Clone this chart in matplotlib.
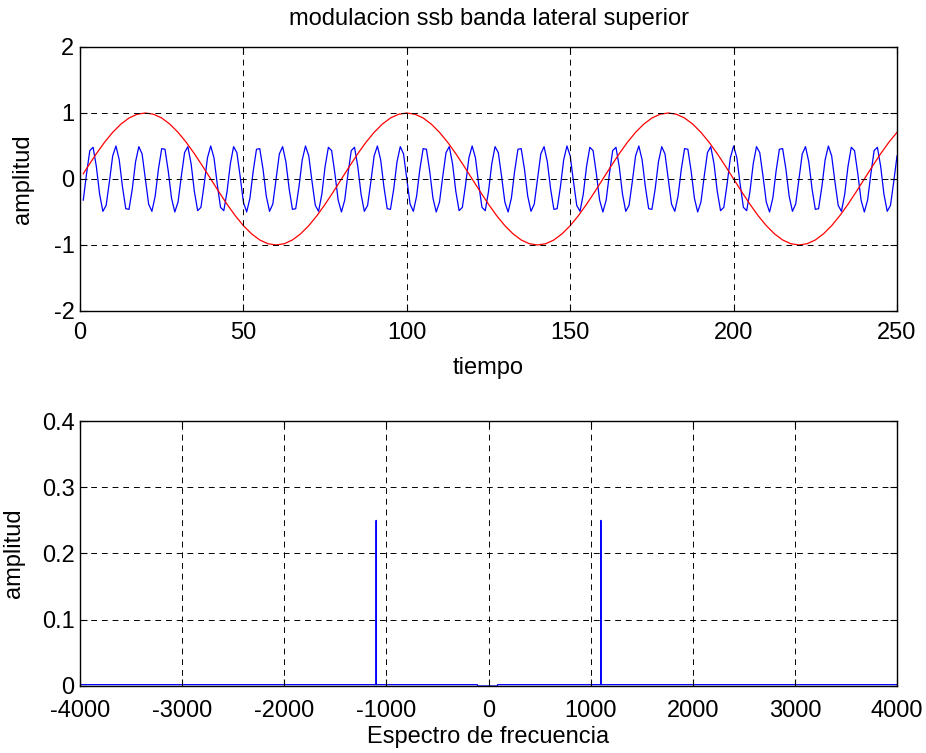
import numpy as np
import matplotlib
matplotlib.use("Agg")
import matplotlib.pyplot as plt

plt.rcParams['font.family'] = ['Liberation Sans', 'DejaVu Sans']
plt.rcParams['axes.unicode_minus'] = False

# ---------------- data ----------------
# SSB signal (blue), samples n = 1..250
ssb_n = np.arange(1, 251)
ssb_vals = [
    -0.32, 0.08, 0.43, 0.48, 0.19, -0.23, -0.49, -0.40, -0.04, 0.35,
    0.50, 0.29, -0.12, -0.45, -0.46, -0.15, 0.26, 0.49, 0.38, 0.00,
    -0.38, -0.49, -0.26, 0.15, 0.46, 0.45, 0.12, -0.29, -0.50, -0.35,
    0.04, 0.40, 0.49, 0.23, -0.19, -0.48, -0.43, -0.08, 0.32, 0.50,
    0.32, -0.08, -0.43, -0.48, -0.19, 0.23, 0.49, 0.40, 0.04, -0.35,
    -0.50, -0.29, 0.12, 0.45, 0.46, 0.15, -0.26, -0.49, -0.38, 0.00,
    0.38, 0.49, 0.26, -0.15, -0.46, -0.45, -0.12, 0.29, 0.50, 0.35,
    -0.04, -0.40, -0.49, -0.23, 0.19, 0.48, 0.43, 0.08, -0.32, -0.50,
    -0.32, 0.08, 0.43, 0.48, 0.19, -0.23, -0.49, -0.40, -0.04, 0.35,
    0.50, 0.29, -0.12, -0.45, -0.46, -0.15, 0.26, 0.49, 0.38, 0.00,
    -0.38, -0.49, -0.26, 0.15, 0.46, 0.45, 0.12, -0.29, -0.50, -0.35,
    0.04, 0.40, 0.49, 0.23, -0.19, -0.48, -0.43, -0.08, 0.32, 0.50,
    0.32, -0.08, -0.43, -0.48, -0.19, 0.23, 0.49, 0.40, 0.04, -0.35,
    -0.50, -0.29, 0.12, 0.45, 0.46, 0.15, -0.26, -0.49, -0.38, 0.00,
    0.38, 0.49, 0.26, -0.15, -0.46, -0.45, -0.12, 0.29, 0.50, 0.35,
    -0.04, -0.40, -0.49, -0.23, 0.19, 0.48, 0.43, 0.08, -0.32, -0.50,
    -0.32, 0.08, 0.43, 0.48, 0.19, -0.23, -0.49, -0.40, -0.04, 0.35,
    0.50, 0.29, -0.12, -0.45, -0.46, -0.15, 0.26, 0.49, 0.38, 0.00,
    -0.38, -0.49, -0.26, 0.15, 0.46, 0.45, 0.12, -0.29, -0.50, -0.35,
    0.04, 0.40, 0.49, 0.23, -0.19, -0.48, -0.43, -0.08, 0.32, 0.50,
    0.32, -0.08, -0.43, -0.48, -0.19, 0.23, 0.49, 0.40, 0.04, -0.35,
    -0.50, -0.29, 0.12, 0.45, 0.46, 0.15, -0.26, -0.49, -0.38, 0.00,
    0.38, 0.49, 0.26, -0.15, -0.46, -0.45, -0.12, 0.29, 0.50, 0.35,
    -0.04, -0.40, -0.49, -0.23, 0.19, 0.48, 0.43, 0.08, -0.32, -0.50,
    -0.32, 0.08, 0.43, 0.48, 0.19, -0.23, -0.49, -0.40, -0.04, 0.35,
]

# Message signal (red)
msg_t = [1] + list(np.arange(2.5, 250.01, 2.5))
msg_vals = [
    0.08,
    0.195, 0.383, 0.556, 0.707, 0.831, 0.924, 0.981, 1.0,
    0.981, 0.924, 0.831, 0.707, 0.556, 0.383, 0.195, 0.0,
    -0.195, -0.383, -0.556, -0.707, -0.831, -0.924, -0.981, -1.0,
    -0.981, -0.924, -0.831, -0.707, -0.556, -0.383, -0.195, 0.0,
    0.195, 0.383, 0.556, 0.707, 0.831, 0.924, 0.981, 1.0,
    0.981, 0.924, 0.831, 0.707, 0.556, 0.383, 0.195, 0.0,
    -0.195, -0.383, -0.556, -0.707, -0.831, -0.924, -0.981, -1.0,
    -0.981, -0.924, -0.831, -0.707, -0.556, -0.383, -0.195, 0.0,
    0.195, 0.383, 0.556, 0.707, 0.831, 0.924, 0.981, 1.0,
    0.981, 0.924, 0.831, 0.707, 0.556, 0.383, 0.195, 0.0,
    -0.195, -0.383, -0.556, -0.707, -0.831, -0.924, -0.981, -1.0,
    -0.981, -0.924, -0.831, -0.707, -0.556, -0.383, -0.195, 0.0,
    0.195, 0.383, 0.556, 0.707,
]

# Spectrum
spec_f = [-4000, -1101, -1100, -1099, -110, -105, 85, 90, 1099, 1100, 1101, 3996]
spec_a = [0.002, 0.002, 0.25, 0.002, 0.002, 0.0, 0.0, 0.002, 0.002, 0.25, 0.002, 0.002]

top_xticks = [0, 50, 100, 150, 200, 250]
top_yticks = [-2, -1, 0, 1, 2]
bot_xticks = [-4000, -3000, -2000, -1000, 0, 1000, 2000, 3000, 4000]
bot_yticks = [0, 0.1, 0.2, 0.3, 0.4]
bot_ylabels = ['0', '0.1', '0.2', '0.3', '0.4']

# ---------------- figure ----------------
fig = plt.figure(figsize=(9.26, 7.53), dpi=100)
ax1 = fig.add_axes([0.0864, 0.587, 0.8823, 0.3506])
ax2 = fig.add_axes([0.0864, 0.089, 0.8823, 0.3519])

FS = 17
grid_kw = dict(color='black', linestyle=(0, (6, 5)), linewidth=0.7)


def style(ax, xpad):
    for s in ax.spines.values():
        s.set_linewidth(1.0)
        s.set_color('black')
    ax.tick_params(direction='in', length=5, width=0.8, labelsize=FS,
                   top=True, right=True)
    ax.tick_params(axis='x', pad=xpad)
    ax.tick_params(axis='y', pad=4)
    ax.grid(True, **grid_kw)
    ax.set_axisbelow(False)


ax1.plot(ssb_n, ssb_vals, color='blue', linewidth=0.9)
ax1.plot(msg_t, msg_vals, color='red', linewidth=0.9)
ax1.set_xlim(0, 250)
ax1.set_ylim(-2, 2)
ax1.set_xticks(top_xticks)
ax1.set_yticks(top_yticks)
style(ax1, 8)
ax1.set_title('modulacion ssb banda lateral superior', fontsize=17, pad=16)
ax1.set_xlabel('tiempo', fontsize=FS, labelpad=9)
ax1.set_ylabel('amplitud', fontsize=FS, labelpad=14)

ax2.plot(spec_f, spec_a, color='blue', linewidth=0.9)
ax2.set_xlim(-4000, 4000)
ax2.set_ylim(0, 0.4)
ax2.set_xticks(bot_xticks)
ax2.set_yticks(bot_yticks)
ax2.set_yticklabels(bot_ylabels)
style(ax2, 10)
ax2.set_xlabel('Espectro de frecuencia', fontsize=FS, labelpad=3)
ax2.set_ylabel('amplitud', fontsize=FS, labelpad=12)

fig.savefig('out.png', dpi=100)
